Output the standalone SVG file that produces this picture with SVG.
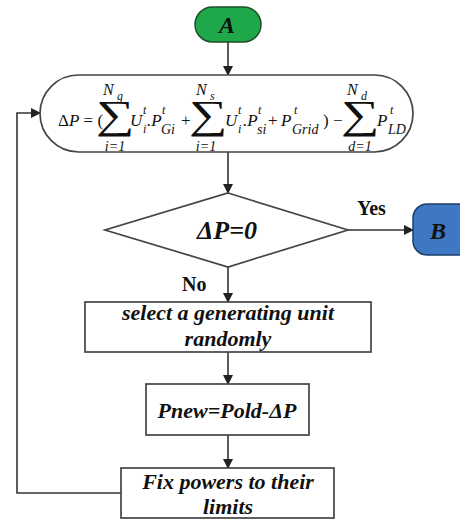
<svg xmlns="http://www.w3.org/2000/svg" width="460" height="520" viewBox="0 0 460 520">
<defs>
<marker id="ah" markerWidth="10" markerHeight="10" refX="9" refY="5" orient="auto" markerUnits="userSpaceOnUse">
<path d="M0,0 L10,5 L0,10 Z" fill="#222"/>
</marker>
<style>
text{font-family:"Liberation Serif","Times New Roman","DejaVu Serif",serif}
.ln{fill:none;stroke:#333;stroke-width:1.6}
.box{fill:#fff;stroke:#444;stroke-width:1.7}
.lbl{font-weight:bold;font-style:italic;font-size:22px;fill:#111;text-anchor:middle}
.yn{font-weight:bold;font-size:20px;fill:#111}
.f{font-size:17px;fill:#111}
.fi{font-style:italic;font-size:17px;fill:#111}
.s{font-style:italic;font-size:12px;fill:#111}
.sm{font-style:italic;font-size:14px;fill:#111}
.sig{font-size:40px;fill:#111;text-anchor:middle}
.lim{font-style:italic;font-size:14px;fill:#111;text-anchor:middle}
</style>
</defs>
<rect width="460" height="520" fill="#fff"/>
<g id="connectors">
<line class="ln" x1="228" y1="42" x2="228" y2="75" marker-end="url(#ah)"/>
<line class="ln" x1="228" y1="152" x2="228" y2="193" marker-end="url(#ah)"/>
<line class="ln" x1="348" y1="230" x2="413" y2="230" marker-end="url(#ah)"/>
<line class="ln" x1="228" y1="267" x2="228" y2="302" marker-end="url(#ah)"/>
<line class="ln" x1="228" y1="352" x2="228" y2="384" marker-end="url(#ah)"/>
<line class="ln" x1="228" y1="435" x2="228" y2="468" marker-end="url(#ah)"/>
<polyline class="ln" points="121,493 17,493 17,113 40,113" marker-end="url(#ah)"/>
<text class="yn" x="357" y="215">Yes</text>
<text class="yn" x="182" y="291">No</text>
</g>
<g id="nodeA">
<rect x="195" y="7" width="66" height="35" rx="17.5" fill="#1fa84a" stroke="#1d4f2a" stroke-width="1.5"/>
<text class="lbl" x="227" y="33" style="font-size:24px">A</text>
</g>
<g id="formula">
<rect class="box" x="40" y="75" width="373" height="77" rx="38.5"/>
<text class="f" x="58" y="126">Δ<tspan font-style="italic">P</tspan> = (</text>
<text class="sig" transform="translate(115,128) scale(1.35,1)">∑</text>
<text class="sm" x="103" y="95" style="font-size:16px">N</text><text class="s" x="117" y="100">g</text>
<text class="lim" x="115" y="151">i=1</text>
<text class="fi" x="130" y="126">U</text><text class="s" x="143" y="114">t</text><text class="s" x="143" y="133">i</text>
<text class="fi" x="147" y="126">.P</text><text class="s" x="162" y="114">t</text><text class="sm" x="161" y="134">Gi</text>
<text class="f" x="181" y="126">+</text>
<text class="sig" transform="translate(208,128) scale(1.35,1)">∑</text>
<text class="sm" x="196" y="95" style="font-size:16px">N</text><text class="s" x="210" y="100">s</text>
<text class="lim" x="206" y="151">i=1</text>
<text class="fi" x="225" y="126">U</text><text class="s" x="238" y="114">t</text><text class="s" x="238" y="133">i</text>
<text class="fi" x="243" y="126">.P</text><text class="s" x="258" y="114">t</text><text class="sm" x="257" y="134">si</text>
<text class="f" x="268" y="126">+</text>
<text class="fi" x="281" y="126">P</text><text class="s" x="294" y="114">t</text><text class="sm" x="292" y="134">Grid</text>
<text class="f" x="323" y="126">) −</text>
<text class="sig" transform="translate(360,128) scale(1.35,1)">∑</text>
<text class="sm" x="347" y="95" style="font-size:16px">N</text><text class="s" x="361" y="100">d</text>
<text class="lim" x="360" y="151">d=1</text>
<text class="fi" x="377" y="126">P</text><text class="s" x="390" y="114">t</text><text class="sm" x="388" y="134">LD</text>
</g>
<g id="decision">
<polygon class="box" points="228,193 348,230 228,267 105,230"/>
<text class="lbl" x="227" y="239" style="font-size:26px">ΔP=0</text>
</g>
<g id="nodeB">
<rect x="413" y="204" width="60" height="51" rx="14" fill="#3e78c2" stroke="#1d3e6a" stroke-width="1.5"/>
<text class="lbl" x="438" y="239" style="font-size:24px">B</text>
</g>
<g id="select">
<rect class="box" x="85" y="302" width="286" height="50"/>
<text class="lbl" x="228" y="320">select a generating unit</text>
<text class="lbl" x="228" y="346">randomly</text>
</g>
<g id="pnew">
<rect class="box" x="146" y="384" width="163" height="51"/>
<text class="lbl" x="227" y="418">Pnew=Pold-ΔP</text>
</g>
<g id="fix">
<rect class="box" x="121" y="468" width="213" height="50"/>
<text class="lbl" x="228" y="489">Fix powers to their</text>
<text class="lbl" x="228" y="514">limits</text>
</g>
</svg>
